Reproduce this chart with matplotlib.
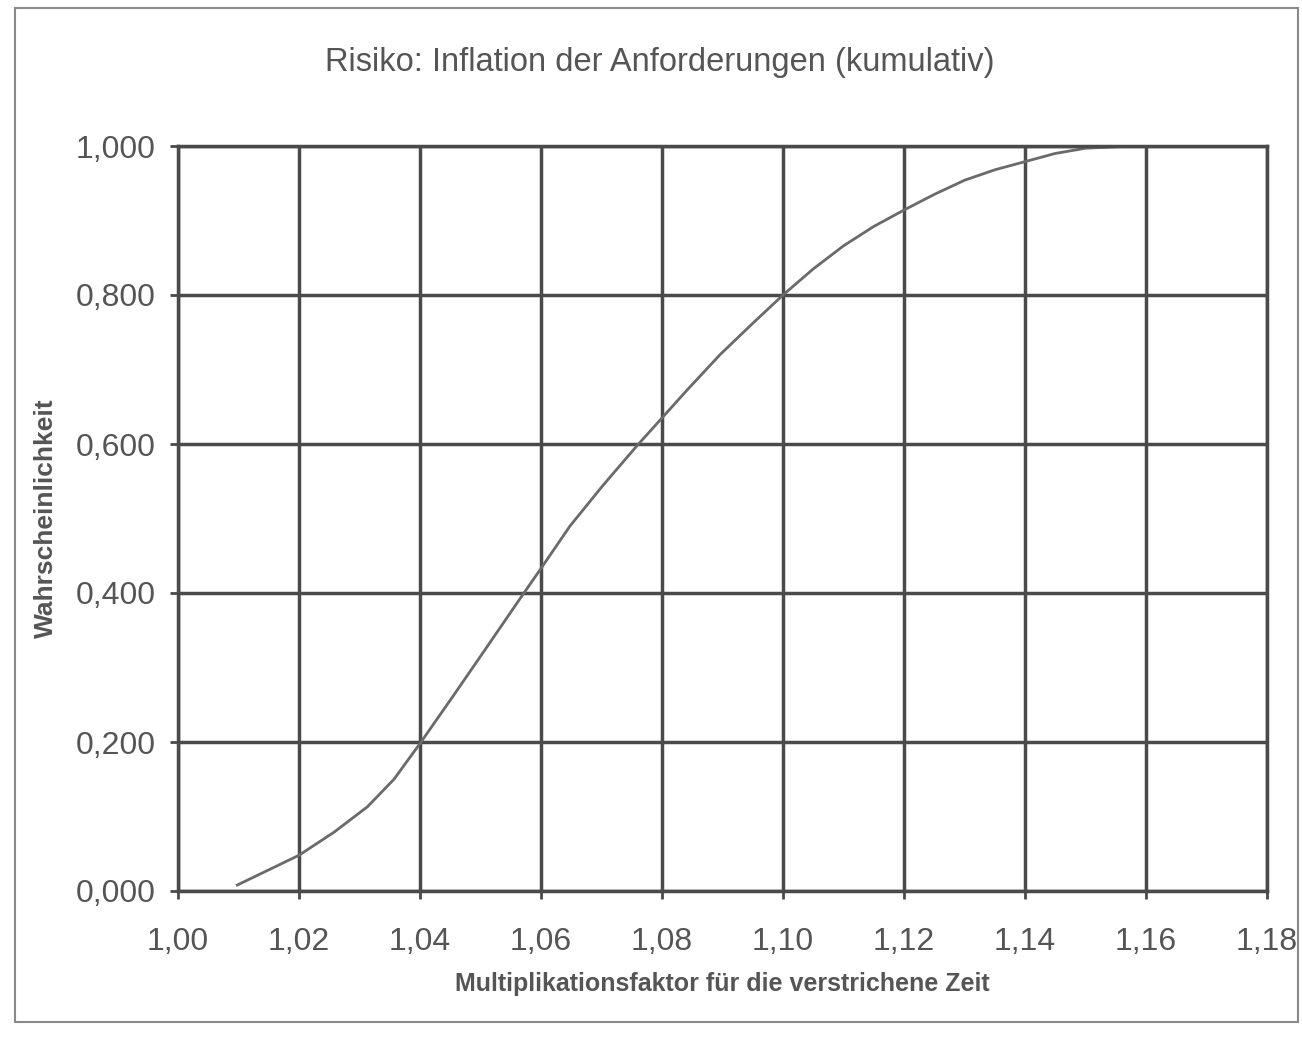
import matplotlib.pyplot as plt
from matplotlib.patches import Rectangle
from matplotlib.ticker import FuncFormatter

# Werte
faktor = [1.0098, 1.020, 1.0258, 1.0313, 1.0357, 1.040, 1.0455, 1.0511, 1.0565,
          1.060, 1.0648, 1.0703, 1.0759, 1.080, 1.0841, 1.0896, 1.095, 1.100,
          1.105, 1.110, 1.115, 1.120, 1.125, 1.130, 1.135, 1.140, 1.145, 1.150,
          1.158]
wahrsch = [0.008, 0.048, 0.079, 0.113, 0.150, 0.198, 0.262, 0.328, 0.392,
           0.433, 0.490, 0.545, 0.598, 0.635, 0.672, 0.720, 0.762, 0.800,
           0.835, 0.866, 0.892, 0.914, 0.935, 0.954, 0.968, 0.979, 0.990, 0.997,
           1.000]

x_ticks = [1.00, 1.02, 1.04, 1.06, 1.08, 1.10, 1.12, 1.14, 1.16, 1.18]
y_ticks = [0.0, 0.2, 0.4, 0.6, 0.8, 1.0]

plt.rcParams['font.family'] = ['Liberation Sans', 'DejaVu Sans']

fig = plt.figure(figsize=(13.02, 10.41), dpi=100)
fig.patch.set_facecolor('white')
# Rahmen um das ganze Diagramm
fig.patches.append(Rectangle((15/1302, 1-1022/1041), 1283/1302, 1014/1041,
                             transform=fig.transFigure, fill=False,
                             edgecolor='#8a8a8a', lw=1.5))

ax = fig.add_axes([178/1302, 1-891/1041, 1089/1302, 745/1041])
ax.plot(faktor, wahrsch, color='#6a6a6a', lw=2)

ax.set_xlim(1.00, 1.18)
ax.set_ylim(0, 1.0)
ax.set_xticks(x_ticks)
ax.set_yticks(y_ticks)
ax.xaxis.set_major_formatter(FuncFormatter(lambda v, p: f"{v:.2f}".replace('.', ',')))
ax.yaxis.set_major_formatter(FuncFormatter(lambda v, p: f"{v:.3f}".replace('.', ',')))
ax.grid(True, color='#4a4a4a', lw=2.5)
ax.set_axisbelow(True)
for s in ax.spines.values():
    s.set_color('#4a4a4a')
    s.set_linewidth(2.5)
ax.tick_params(colors='#4a4a4a', labelcolor='#555555', labelsize=23,
               direction='out', length=6, width=2)
ax.tick_params(axis='x', pad=20)
ax.tick_params(axis='y', pad=10)

ax.set_xlabel("Multiplikationsfaktor für die verstrichene Zeit", fontsize=18,
              fontweight='bold', color='#555555', labelpad=11)
ax.set_ylabel("Wahrscheinlichkeit", fontsize=19, fontweight='bold',
              color='#555555', labelpad=13)
fig.text(0.507, 1-63/1041, "Risiko: Inflation der Anforderungen (kumulativ)",
         ha='center', va='center', fontsize=23.5, color='#555555')

plt.savefig("out.png", dpi=100)
